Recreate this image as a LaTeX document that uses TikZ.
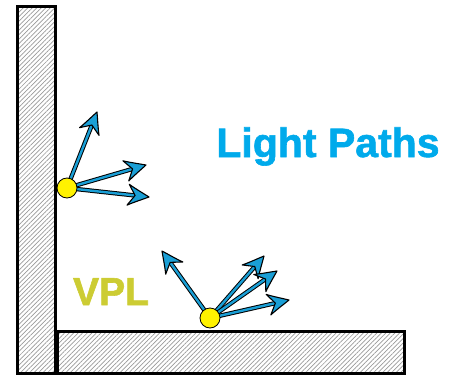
\documentclass[tikz,border=0pt]{standalone}
\usepackage{fontspec}
\newfontfamily\labelfont{Liberation Sans}[BoldFeatures={FakeBold=1.5}]
\usetikzlibrary{patterns.meta}
\definecolor{arrowblue}{HTML}{1A9FD6}
\definecolor{titleblue}{HTML}{00AAEB}
\definecolor{vplolive}{HTML}{CCCC33}
\tikzset{
  surface/.style={draw=black, line width=3pt,
    pattern={Lines[angle=45, distance=3.2pt, line width=0.7pt]}, pattern color=gray!80},
  rayedge/.style={draw=black, line width=4.4pt, shorten >=12pt},
  raycore/.style={draw=arrowblue, line width=2.4pt, shorten >=12pt},
  raytip/.pic={
    \filldraw[fill=arrowblue, draw=black, line width=1.1pt, line join=round]
      (0,0) .. controls (-7,3.5) and (-14,6.5) .. (-21,10.5)
      -- (-14,0) -- (-21,-10.5)
      .. controls (-14,-6.5) and (-7,-3.5) .. cycle;
  },
  vpl/.style={circle, draw=black, line width=0.8pt, fill=yellow, minimum size=20pt, inner sep=0pt},
}
\begin{document}
\begin{tikzpicture}[x=1pt, y=-1pt]
\useasboundingbox (0,0) rectangle (451,375);

% wall and floor
\path[surface] (17,6) rectangle (55,373);
\path[surface] (57,331) rectangle (404,373);

% end points of the rays
\coordinate (p1) at (67,188);
\coordinate (a1) at (97,112);
\coordinate (a2) at (146,165);
\coordinate (a3) at (149,197);
\coordinate (p2) at (210,318);
\coordinate (b1) at (162,251);
\coordinate (b2) at (264,256);
\coordinate (b3) at (277,271);
\coordinate (b4) at (289,300);

% rays: black edge, blue core, then the head
\foreach \s/\t in {p1/a1, p1/a2, p1/a3, p2/b1, p2/b2, p2/b3, p2/b4} {
  \draw[rayedge] (\s) -- (\t);
  \draw[raycore] (\s) -- (\t);
  \path (\s) -- (\t) pic[pos=1, sloped, allow upside down] {raytip};
}

% the two VPLs
\node[vpl] (v1) at (p1) {};
\node[vpl] (v2) at (p2) {};

% labels
\node[font=\labelfont\bfseries\fontsize{41}{41}\selectfont, text=titleblue, anchor=base, inner sep=0pt]
  (title) at (328,157) {Light Paths};
\node[font=\labelfont\bfseries\fontsize{39}{39}\selectfont, text=vplolive, anchor=base, inner sep=0pt]
  (vpltext) at (111,305) {VPL};
\end{tikzpicture}
\end{document}
